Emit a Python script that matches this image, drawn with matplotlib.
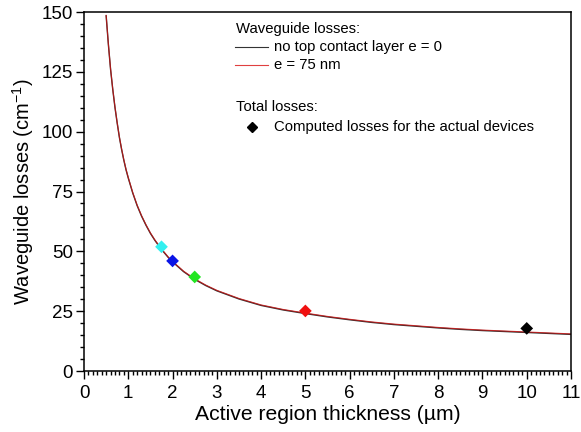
import matplotlib
matplotlib.use("Agg")
import matplotlib.pyplot as plt
from matplotlib.lines import Line2D
from matplotlib.ticker import MultipleLocator

plt.rcParams["font.family"] = ["Liberation Sans", "DejaVu Sans"]

# waveguide losses (cm^-1) vs active region thickness (um)
thickness = [0.5, 0.55, 0.6, 0.65, 0.7, 0.75, 0.8, 0.85, 0.9, 0.95, 1.0, 1.1, 1.2,
             1.3, 1.4, 1.5, 1.6, 1.75, 1.9, 2.0, 2.25, 2.5, 2.75, 3.0, 3.5, 4.0, 4.5,
             5.0, 5.5, 6.0, 6.5, 7.0, 7.5, 8.0, 8.5, 9.0, 9.5, 10.0, 10.5, 11.0]
loss_e0 = [148.4, 136.5, 126.0, 117.5, 110.0, 103.5, 97.5, 92.5, 88.0, 84.0, 80.6, 74.4, 69.1,
           64.7, 60.9, 57.5, 54.6, 50.8, 47.5, 45.6, 41.5, 38.3, 35.7, 33.5, 30.1, 27.4, 25.5,
           24.0, 22.6, 21.4, 20.3, 19.4, 18.7, 18.0, 17.4, 16.9, 16.5, 16.1, 15.7, 15.3]
loss_e75 = [148.6, 136.7, 126.2, 117.7, 110.2, 103.7, 97.7, 92.7, 88.2, 84.2, 80.8, 74.6, 69.3,
            64.9, 61.1, 57.7, 54.8, 51.0, 47.7, 45.8, 41.7, 38.5, 35.9, 33.7, 30.3, 27.6, 25.7,
            24.2, 22.8, 21.6, 20.5, 19.6, 18.9, 18.2, 17.6, 17.1, 16.7, 16.3, 15.9, 15.5]

# computed total losses for the actual devices
dev_x = [1.75, 2.0, 2.5, 5.0, 10.0]
dev_y = [51.9, 46.0, 39.3, 25.1, 17.8]
dev_colors = ["#33f0f0", "#0a14e6", "#22e622", "#f01010", "#000000"]

fig = plt.figure(figsize=(5.81, 4.32), dpi=100)
ax = fig.add_axes([0.1446, 0.1412, 0.8382, 0.831])

ax.plot(thickness, loss_e0, color="#333333", lw=1.0)
ax.plot(thickness, loss_e75, color="#cc1111", lw=0.8, alpha=0.8)
ax.scatter(dev_x, dev_y, c=dev_colors, marker="D", s=42, zorder=3, linewidths=0)

ax.set_xlim(0, 11)
ax.set_ylim(0, 150)
ax.xaxis.set_major_locator(MultipleLocator(1))
ax.xaxis.set_minor_locator(MultipleLocator(0.1))
ax.yaxis.set_major_locator(MultipleLocator(25))
ax.yaxis.set_minor_locator(MultipleLocator(5))
ax.tick_params(which="both", direction="out", top=False, right=False, labelsize=13.5, width=1)
ax.tick_params(which="major", length=6)
ax.tick_params(axis="x", which="major", pad=4)
ax.tick_params(axis="y", which="major", pad=2)
ax.tick_params(which="minor", length=3)
for s in ax.spines.values():
    s.set_linewidth(1.1)

ax.set_xlabel("Active region thickness (\u00b5m)", fontsize=15.2, labelpad=2)
ax.set_ylabel("Waveguide losses (cm$^{\\mathregular{-1}}$)", fontsize=14.5, labelpad=4)

# legend written out by hand to match the layout
fs = 10.7
ax.text(0.313, 0.953, "Waveguide losses:", transform=ax.transAxes, fontsize=fs, va="center")
ax.add_line(Line2D([0.311, 0.377], [0.9025, 0.9025], transform=ax.transAxes, color="#333333", lw=0.8))
ax.text(0.39, 0.9025, "no top contact layer e = 0", transform=ax.transAxes, fontsize=fs, va="center")
ax.add_line(Line2D([0.311, 0.377], [0.852, 0.852], transform=ax.transAxes, color="#e04040", lw=0.8))
ax.text(0.39, 0.852, "e = 75 nm", transform=ax.transAxes, fontsize=fs, va="center")
ax.text(0.313, 0.735, "Total losses:", transform=ax.transAxes, fontsize=fs, va="center")
ax.plot([0.345], [0.68], transform=ax.transAxes, marker="D", color="black", ms=5.5, ls="none")
ax.text(0.39, 0.68, "Computed losses for the actual devices", transform=ax.transAxes, fontsize=fs, va="center")

fig.savefig("out.png", dpi=100)
